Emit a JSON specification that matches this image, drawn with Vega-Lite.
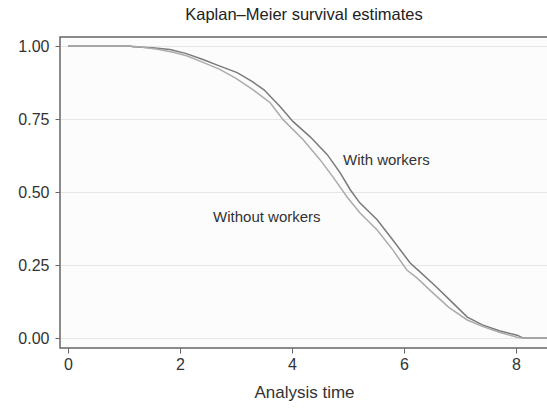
{
  "$schema": "https://vega.github.io/schema/vega-lite/v6.json",
  "width": 488,
  "height": 311,
  "autosize": {"type": "none"},
  "padding": {"left": 60, "top": 37, "right": 0, "bottom": 60},
  "background": "white",
  "title": {
    "text": "Kaplan–Meier survival estimates",
    "font": "Liberation Sans",
    "fontSize": 16.5,
    "fontWeight": "normal",
    "color": "#222222",
    "anchor": "middle",
    "offset": 14
  },
  "config": {
    "view": {"stroke": "#666666", "strokeWidth": 1.5, "fill": "#fcfcfc"},
    "axis": {
      "labelFont": "Liberation Sans",
      "labelFontSize": 16,
      "labelColor": "#333333",
      "titleFont": "Liberation Sans",
      "titleFontSize": 17,
      "titleFontWeight": "normal",
      "titleColor": "#333333",
      "tickColor": "#666666",
      "tickSize": 5,
      "domain": false
    }
  },
  "datasets": {
    "km": [
      {"t": 0, "s": 1, "g": "With workers"},
      {"t": 1.1, "s": 1, "g": "With workers"},
      {"t": 1.16, "s": 0.998, "g": "With workers"},
      {"t": 1.5, "s": 0.994, "g": "With workers"},
      {"t": 1.82, "s": 0.988, "g": "With workers"},
      {"t": 2.1, "s": 0.975, "g": "With workers"},
      {"t": 2.41, "s": 0.954, "g": "With workers"},
      {"t": 2.7, "s": 0.932, "g": "With workers"},
      {"t": 3.02, "s": 0.909, "g": "With workers"},
      {"t": 3.3, "s": 0.877, "g": "With workers"},
      {"t": 3.5, "s": 0.85, "g": "With workers"},
      {"t": 3.79, "s": 0.792, "g": "With workers"},
      {"t": 4.02, "s": 0.741, "g": "With workers"},
      {"t": 4.32, "s": 0.69, "g": "With workers"},
      {"t": 4.63, "s": 0.628, "g": "With workers"},
      {"t": 4.86, "s": 0.566, "g": "With workers"},
      {"t": 5.04, "s": 0.508, "g": "With workers"},
      {"t": 5.21, "s": 0.463, "g": "With workers"},
      {"t": 5.52, "s": 0.405, "g": "With workers"},
      {"t": 5.8, "s": 0.336, "g": "With workers"},
      {"t": 6.11, "s": 0.257, "g": "With workers"},
      {"t": 6.29, "s": 0.226, "g": "With workers"},
      {"t": 6.55, "s": 0.18, "g": "With workers"},
      {"t": 6.82, "s": 0.13, "g": "With workers"},
      {"t": 7.13, "s": 0.072, "g": "With workers"},
      {"t": 7.4, "s": 0.045, "g": "With workers"},
      {"t": 7.7, "s": 0.025, "g": "With workers"},
      {"t": 8.02, "s": 0.01, "g": "With workers"},
      {"t": 8.13, "s": 0, "g": "With workers"},
      {"t": 8.6, "s": 0, "g": "With workers"},
      {"t": 0, "s": 1, "g": "Without workers"},
      {"t": 1.1, "s": 1, "g": "Without workers"},
      {"t": 1.3, "s": 0.997, "g": "Without workers"},
      {"t": 1.6, "s": 0.989, "g": "Without workers"},
      {"t": 1.9, "s": 0.978, "g": "Without workers"},
      {"t": 2.13, "s": 0.966, "g": "Without workers"},
      {"t": 2.4, "s": 0.945, "g": "Without workers"},
      {"t": 2.71, "s": 0.92, "g": "Without workers"},
      {"t": 3.0, "s": 0.889, "g": "Without workers"},
      {"t": 3.3, "s": 0.851, "g": "Without workers"},
      {"t": 3.61, "s": 0.806, "g": "Without workers"},
      {"t": 3.84, "s": 0.748, "g": "Without workers"},
      {"t": 4.2, "s": 0.679, "g": "Without workers"},
      {"t": 4.5, "s": 0.611, "g": "Without workers"},
      {"t": 4.73, "s": 0.552, "g": "Without workers"},
      {"t": 4.98, "s": 0.484, "g": "Without workers"},
      {"t": 5.21, "s": 0.429, "g": "Without workers"},
      {"t": 5.52, "s": 0.37, "g": "Without workers"},
      {"t": 5.8, "s": 0.302, "g": "Without workers"},
      {"t": 6.05, "s": 0.233, "g": "Without workers"},
      {"t": 6.23, "s": 0.206, "g": "Without workers"},
      {"t": 6.52, "s": 0.154, "g": "Without workers"},
      {"t": 6.8, "s": 0.105, "g": "Without workers"},
      {"t": 7.13, "s": 0.062, "g": "Without workers"},
      {"t": 7.4, "s": 0.04, "g": "Without workers"},
      {"t": 7.7, "s": 0.02, "g": "Without workers"},
      {"t": 8.02, "s": 0.003, "g": "Without workers"},
      {"t": 8.1, "s": 0, "g": "Without workers"},
      {"t": 8.6, "s": 0, "g": "Without workers"}
    ],
    "labels": [
      {"t": 4.91, "s": 0.611, "label": "With workers"},
      {"t": 2.59, "s": 0.415, "label": "Without workers"}
    ]
  },
  "encoding": {
    "x": {
      "field": "t",
      "type": "quantitative",
      "scale": {"domain": [-0.143, 8.571], "nice": false, "zero": false},
      "axis": {"values": [0, 2, 4, 6, 8], "title": "Analysis time", "grid": false, "labelPadding": 3, "titlePadding": 12}
    },
    "y": {
      "field": "s",
      "type": "quantitative",
      "scale": {"domain": [-0.034, 1.031], "nice": false, "zero": false},
      "axis": {"values": [0, 0.25, 0.5, 0.75, 1], "format": ".2f", "title": null, "grid": true, "gridColor": "#e6e6e6", "gridWidth": 1.2, "labelPadding": 6}
    }
  },
  "layer": [
    {
      "data": {"name": "km"},
      "mark": {"type": "line", "strokeWidth": 1.5, "clip": true},
      "encoding": {
        "detail": {"field": "g"},
        "color": {
          "field": "g",
          "type": "nominal",
          "scale": {"domain": ["With workers", "Without workers"], "range": ["#7a7a7a", "#ababab"]},
          "legend": null
        }
      }
    },
    {
      "data": {"name": "labels"},
      "mark": {"type": "text", "align": "left", "baseline": "middle", "font": "Liberation Sans", "fontSize": 15, "color": "#333333"},
      "encoding": {"text": {"field": "label"}}
    }
  ]
}
